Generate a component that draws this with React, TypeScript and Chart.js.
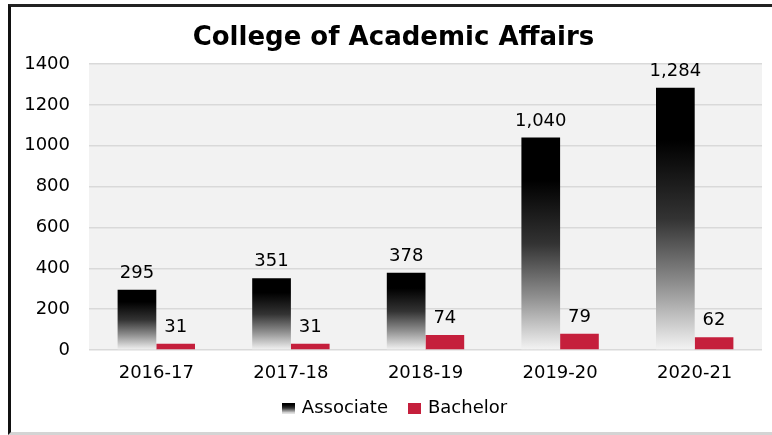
import React, { useEffect, useRef } from "react";
import { Chart, registerables } from "chart.js";

Chart.register(...registerables);

const categories = ["2016-17", "2017-18", "2018-19", "2019-20", "2020-21"];
const associate = [295, 351, 378, 1040, 1284];
const bachelor = [31, 31, 74, 79, 62];
const seriesNames = ["Associate", "Bachelor"];
const yTicks = [0, 200, 400, 600, 800, 1000, 1200, 1400];
const titleText = "College of Academic Affairs";

const RED = "#c51f3c";
const FONT = "'DejaVu Sans', sans-serif";

function makeGradientFill(ctx: CanvasRenderingContext2D, top: number, bottom: number) {
  const g = ctx.createLinearGradient(0, top, 0, bottom);
  g.addColorStop(0, "#000000");
  g.addColorStop(0.2, "#000000");
  g.addColorStop(0.5, "#333333");
  g.addColorStop(0.75, "#8f8f8f");
  g.addColorStop(1, "#f4f4f4");
  return g;
}

function makeSwatch(kind: "grad" | "red") {
  const c = document.createElement("canvas");
  c.width = 13;
  c.height = 11;
  const x = c.getContext("2d")!;
  if (kind === "grad") {
    x.fillStyle = makeGradientFill(x, 0, 11);
  } else {
    x.fillStyle = RED;
  }
  x.fillRect(0, 0, 13, 11);
  return c;
}

const plotBg = {
  id: "plotBg",
  beforeDraw(chart: any) {
    const { ctx, chartArea } = chart;
    ctx.save();
    ctx.fillStyle = "#f2f2f2";
    ctx.fillRect(chartArea.left, chartArea.top, chartArea.right - chartArea.left, chartArea.bottom - chartArea.top);
    ctx.restore();
  },
};

const legendShift = {
  id: "legendShift",
  afterLayout(chart: any) {
    const lg = chart.legend;
    if (!lg) return;
    lg.left += 15;
    lg.right += 15;
    lg.top -= 8;
    lg.bottom -= 8;
  },
};

const titlePlugin = {
  id: "centeredTitle",
  afterDraw(chart: any) {
    const { ctx } = chart;
    ctx.save();
    ctx.font = `bold 26px ${FONT}`;
    ctx.fillStyle = "#000";
    ctx.textAlign = "center";
    ctx.textBaseline = "middle";
    ctx.fillText(titleText, 393.5, 38);
    ctx.restore();
  },
};

const valueLabels = {
  id: "valueLabels",
  afterDatasetsDraw(chart: any) {
    const { ctx } = chart;
    ctx.save();
    ctx.font = `18px ${FONT}`;
    ctx.fillStyle = "#000";
    ctx.textAlign = "center";
    ctx.textBaseline = "alphabetic";
    chart.data.datasets.forEach((ds: any, di: number) => {
      const meta = chart.getDatasetMeta(di);
      meta.data.forEach((bar: any, i: number) => {
        const v = ds.data[i];
        ctx.fillText(v.toLocaleString("en-US"), bar.x, bar.y - 12);
      });
    });
    ctx.restore();
  },
};

export default function App() {
  const ref = useRef<HTMLCanvasElement>(null);

  useEffect(() => {
    const canvas = ref.current!;
    const gradSwatch = makeSwatch("grad");
    const redSwatch = makeSwatch("red");
    const chart = new Chart(canvas, {
      type: "bar",
      data: {
        labels: categories,
        datasets: [
          {
            label: seriesNames[0],
            data: associate,
            backgroundColor: (c: any) => {
              const chartObj = c.chart;
              if (!chartObj.chartArea || c.type !== "data") return "#000";
              const ys = chartObj.scales.y;
              const top = ys.getPixelForValue(c.parsed.y);
              const bottom = ys.getPixelForValue(0);
              return makeGradientFill(chartObj.ctx, top, bottom);
            },
            borderWidth: 0,
          },
          {
            label: seriesNames[1],
            data: bachelor,
            backgroundColor: RED,
            borderWidth: 0,
          },
        ],
      },
      options: {
        responsive: false,
        animation: false,
        layout: { padding: { left: 0, right: 10, top: 64, bottom: 0 } },
        datasets: {
          bar: { barPercentage: 1, categoryPercentage: 0.575 },
        },
        scales: {
          x: {
            grid: { display: false, drawTicks: false },
            border: { display: false },
            ticks: { color: "#000", font: { family: FONT, size: 18 }, padding: 13 },
            afterFit: (s: any) => {
              s.height = 34;
            },
          },
          y: {
            min: 0,
            max: 1400,
            afterBuildTicks: (s: any) => {
              s.ticks = yTicks.map((v) => ({ value: v }));
            },
            grid: { color: "#d9d9d9", lineWidth: 1.5, drawTicks: false },
            border: { display: false },
            ticks: {
              color: "#000",
              font: { family: FONT, size: 18 },
              padding: 19,
              callback: (v: any) => String(v),
            },
            afterFit: (s: any) => {
              s.width = 89;
            },
          },
        },
        plugins: {
          title: { display: false },
          legend: {
            position: "bottom",
            labels: {
              color: "#000",
              font: { family: FONT, size: 18 },
              usePointStyle: true,
              boxWidth: 8,
              boxHeight: 11,
              padding: 23,
              generateLabels: (ch: any) => {
                const items = Chart.defaults.plugins.legend.labels.generateLabels(ch);
                items.forEach((it: any, i: number) => {
                  it.pointStyle = i === 0 ? gradSwatch : redSwatch;
                  it.fillStyle = i === 0 ? "#000" : RED;
                  it.lineWidth = 0;
                  it.strokeStyle = "transparent";
                });
                return items;
              },
            },
          },
          tooltip: { enabled: false },
        },
      },
      plugins: [plotBg, valueLabels, titlePlugin, legendShift],
    });
    return () => chart.destroy();
  }, []);

  return (
    <div style={{ position: "absolute", left: 0, top: 0, width: 772, height: 435, background: "#fff", overflow: "hidden" }}>
      <canvas ref={ref} width={772} height={435} style={{ position: "absolute", left: 0, top: 0 }} />
      <div
        style={{
          position: "absolute",
          left: 8,
          top: 4,
          width: 800,
          height: 425,
          borderLeft: "3px solid #111",
          borderTop: "3px solid #222",
          borderBottom: "3px solid #d4d4d4",
          pointerEvents: "none",
        }}
      />
    </div>
  );
}
